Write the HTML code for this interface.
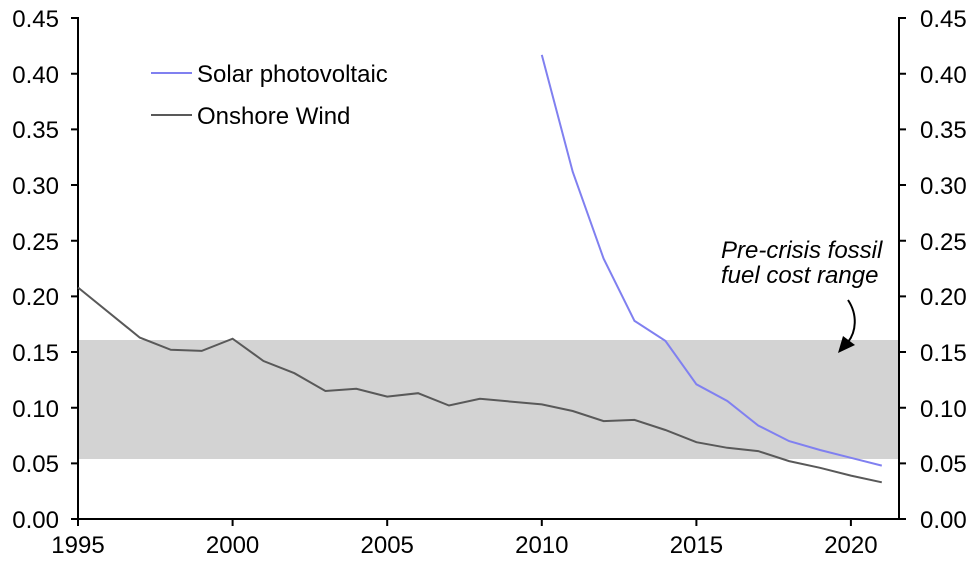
<!DOCTYPE html><html><head><style>body{margin:0;background:#fff}svg{display:block}text{font-family:"Liberation Sans",Arial,sans-serif;font-size:24px;fill:#000}</style></head><body>
<svg width="976" height="562" viewBox="0 0 976 562">
<rect x="78" y="340" width="821" height="119" fill="#d3d3d3"/>
<g stroke="#000" stroke-width="2" fill="none">
<line x1="78" y1="17" x2="78" y2="520"/><line x1="77" y1="519" x2="900" y2="519"/><line x1="899" y1="17" x2="899" y2="520"/>
</g>
<g stroke="#000" stroke-width="2">
<path d="M71 519H78M71 463.4H78M71 407.7H78M71 352H78M71 296.4H78M71 240.7H78M71 185H78M71 129.4H78M71 73.7H78M71 18H78"/>
<path d="M899 519H906M899 463.4H906M899 407.7H906M899 352H906M899 296.4H906M899 240.7H906M899 185H906M899 129.4H906M899 73.7H906M899 18H906"/>
<path d="M78 519V526M232.6 519V526M387.2 519V526M541.8 519V526M696.4 519V526M850.9 519V526"/>
</g>
<g text-anchor="end">
<text x="59" y="528">0.00</text><text x="59" y="472">0.05</text><text x="59" y="417">0.10</text><text x="59" y="361">0.15</text><text x="59" y="305">0.20</text><text x="59" y="250">0.25</text><text x="59" y="194">0.30</text><text x="59" y="138">0.35</text><text x="59" y="83">0.40</text><text x="59" y="27">0.45</text>
</g>
<g>
<text x="920" y="528">0.00</text><text x="920" y="472">0.05</text><text x="920" y="417">0.10</text><text x="920" y="361">0.15</text><text x="920" y="305">0.20</text><text x="920" y="250">0.25</text><text x="920" y="194">0.30</text><text x="920" y="138">0.35</text><text x="920" y="83">0.40</text><text x="920" y="27">0.45</text>
</g>
<g text-anchor="middle">
<text x="78" y="553">1995</text><text x="232.6" y="553">2000</text><text x="387.2" y="553">2005</text><text x="541.8" y="553">2010</text><text x="696.4" y="553">2015</text><text x="850.9" y="553">2020</text>
</g>
<polyline fill="none" stroke="#595959" stroke-width="2" points="78,287.5 139.8,337.6 170.8,349.8 201.7,350.9 232.6,338.7 263.5,361 294.4,373.2 325.4,391 356.3,388.8 387.2,396.6 418.1,393.2 449,405.5 479.9,398.8 541.8,404.4 572.7,411 603.6,421.1 634.5,419.9 665.4,430 696.4,442.2 727.3,447.8 758.2,451.1 789.1,461.1 820,467.8 850.9,475.6 881.8,482.3"/>
<polyline fill="none" stroke="#8080f0" stroke-width="2" points="541.8,54.9 572.7,171.7 603.6,258.6 634.5,320.9 665.4,340.9 696.4,384.3 727.3,401 758.2,425.5 789.1,441.1 820,450 850.9,457.8 881.8,465.6"/>
<line x1="151" y1="73" x2="192" y2="73" stroke="#8080f0" stroke-width="2"/>
<text x="197" y="82" font-size="25">Solar photovoltaic</text>
<line x1="151" y1="115" x2="192" y2="115" stroke="#595959" stroke-width="2"/>
<text x="197" y="124" font-size="25">Onshore Wind</text>
<text x="721" y="258" font-style="italic" font-size="22">Pre-crisis fossil</text>
<text x="721" y="283" font-style="italic" font-size="22">fuel cost range</text>
<path d="M848 300 C858 315,856 332,848 342" fill="none" stroke="#000" stroke-width="2"/>
<polygon points="838,353 855,345 843,336" fill="#000"/>
</svg></body></html>
